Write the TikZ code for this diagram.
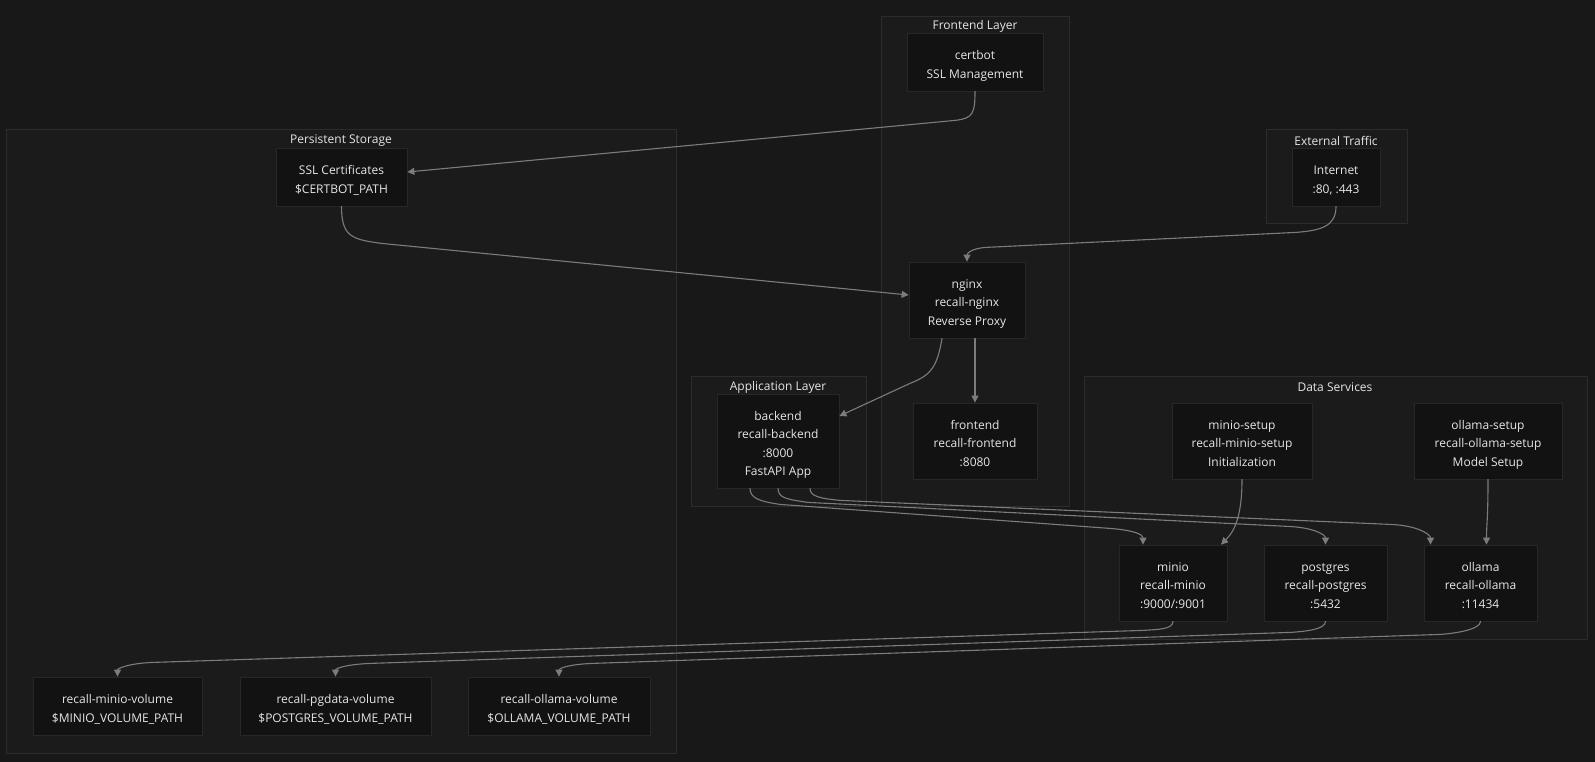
\documentclass[tikz,border=0pt]{standalone}
\usepackage{fontspec}
\setmainfont{Open Sans}
\usetikzlibrary{arrows.meta}
\definecolor{bgc}{HTML}{181818}
\definecolor{grpfill}{HTML}{1B1B1B}
\definecolor{grpline}{HTML}{2C2C2C}
\definecolor{boxfill}{HTML}{121212}
\definecolor{boxline}{HTML}{272727}
\definecolor{txt}{HTML}{E6E6E6}
\definecolor{edgec}{HTML}{7C7C7C}
% cac dong chu trong nut, ha xuong cho giua nut
\newcommand{\bt}[1]{\raisebox{-6.3pt}[0pt][0pt]{\begin{tabular}{@{}c@{}}#1\end{tabular}}}
\begin{document}
\begin{tikzpicture}[x=1pt,y=-1pt,>={Triangle[length=7pt,width=7pt]},
	font=\fontsize{12}{18.2}\selectfont, line join=round, line cap=round,
	box/.style={draw=boxline,fill=boxfill,text=txt,inner sep=0pt,line width=.8pt},
	grp/.style={draw=grpline,fill=grpfill,line width=.8pt},
	grplabel/.style={text=txt},
	edge/.style={draw=edgec,line width=1.1pt,->}]
	%nen
	\fill[bgc] (0,0) rectangle (1595,762);
	\useasboundingbox (0,0) rectangle (1595,762);
	%cac nhom
	\draw[grp] (6,129) rectangle (676,753);
	\node[grplabel] (lbStorage) at (341,141) {Persistent Storage};
	\draw[grp] (881,16) rectangle (1069,506);
	\node[grplabel] (lbFrontend) at (975,26) {Frontend Layer};
	\draw[grp] (1266,129) rectangle (1407,223);
	\node[grplabel] (lbExternal) at (1336,141) {External Traffic};
	\draw[grp] (691,376) rectangle (866,506);
	\node[grplabel] (lbApp) at (778,387) {Application Layer};
	\draw[grp] (1084,376) rectangle (1587,639);
	\node[grplabel] (lbData) at (1335,387) {Data Services};
	%cac nut
	\node[box,minimum width=136,minimum height=58] (certbot) at (975,62) {\bt{certbot\\SSL Management}};
	\node[box,minimum width=131,minimum height=58] (ssl) at (341.5,177) {\bt{SSL Certificates\\\$CERTBOT\_PATH}};
	\node[box,minimum width=88,minimum height=58] (internet) at (1336,177) {\bt{Internet\\:80, :443}};
	\node[box,minimum width=116,minimum height=76] (nginx) at (967,300) {\bt{nginx\\recall-nginx\\Reverse Proxy}};
	\node[box,minimum width=122,minimum height=94] (backend) at (778,441) {\bt{backend\\recall-backend\\:8000\\FastAPI App}};
	\node[box,minimum width=124,minimum height=76] (frontend) at (975,441) {\bt{frontend\\recall-frontend\\:8080}};
	\node[box,minimum width=140,minimum height=76] (minioSetup) at (1242,441) {\bt{minio-setup\\recall-minio-setup\\Initialization}};
	\node[box,minimum width=148,minimum height=76] (ollamaSetup) at (1488,441) {\bt{ollama-setup\\recall-ollama-setup\\Model Setup}};
	\node[box,minimum width=108,minimum height=76] (minio) at (1173,583) {\bt{minio\\recall-minio\\:9000/:9001}};
	\node[box,minimum width=123,minimum height=76] (postgres) at (1325.5,583) {\bt{postgres\\recall-postgres\\:5432}};
	\node[box,minimum width=113,minimum height=76] (ollama) at (1480.5,583) {\bt{ollama\\recall-ollama\\:11434}};
	\node[box,minimum width=169,minimum height=58] (minioVol) at (117.5,706) {\bt{recall-minio-volume\\\$MINIO\_VOLUME\_PATH}};
	\node[box,minimum width=191,minimum height=58] (pgdataVol) at (335.5,706) {\bt{recall-pgdata-volume\\\$POSTGRES\_VOLUME\_PATH}};
	\node[box,minimum width=182,minimum height=58] (ollamaVol) at (559,706) {\bt{recall-ollama-volume\\\$OLLAMA\_VOLUME\_PATH}};
	%cac canh
	\draw[edge] (certbot.south) .. controls +(0,22) and +(18,-2) .. ++(-20,29) -- ([yshift=5pt]ssl.east);
	\draw[edge] (ssl.south) .. controls +(0,30) and +(-30,-4) .. ++(40,37) -- ([yshift=5pt]nginx.west);
	\draw[edge] (internet.south) .. controls +(0,20) and +(25,-2) .. ++(-40,26) -- ++(-310,15) .. controls +(-15,1) and +(0,-8) .. (nginx.north);
	\draw[edge] ([xshift=-25pt]nginx.south) .. controls +(-5,30) and +(20,-8) .. ++(-32,45) -- ([yshift=25pt]backend.east);
	\draw[edge] (frontend.north |- nginx.south) -- (frontend.north);
	\draw[edge] ([xshift=-28pt]backend.south) .. controls +(0,10) and +(-20,-3) .. ++(30,16) -- ++(330,24) .. controls +(25,2) and +(0,-10) .. ([xshift=-30pt]minio.north);
	\draw[edge] (backend.south) .. controls +(0,10) and +(-20,-3) .. ++(30,14) -- ++(480,24) .. controls +(25,1) and +(0,-10) .. (postgres.north);
	\draw[edge] ([xshift=32pt]backend.south) .. controls +(0,8) and +(-20,-2) .. ++(30,12) -- ++(550,24) .. controls +(28,1) and +(0,-10) .. ([xshift=-50pt]ollama.north);
	\draw[edge] (minioSetup.south) .. controls +(0,40) and +(12,-12) .. ([xshift=48pt]minio.north);
	\draw[edge] (ollamaSetup.south) .. controls +(0,40) and +(0,-20) .. ([xshift=6pt]ollama.north);
	\draw[edge] (minio.south) .. controls +(0,8) and +(15,-1) .. ++(-30,9) -- ++(-990,32) .. controls +(-25,1) and +(0,-8) .. (minioVol.north);
	\draw[edge] (postgres.south) .. controls +(0,8) and +(15,-1) .. ++(-35,11) -- ++(-920,31) .. controls +(-25,1) and +(0,-8) .. (pgdataVol.north);
	\draw[edge] (ollama.south) .. controls +(0,8) and +(15,-1) .. ++(-40,13) -- ++(-848,29) .. controls +(-25,1) and +(0,-8) .. (ollamaVol.north);
\end{tikzpicture}
\end{document}
